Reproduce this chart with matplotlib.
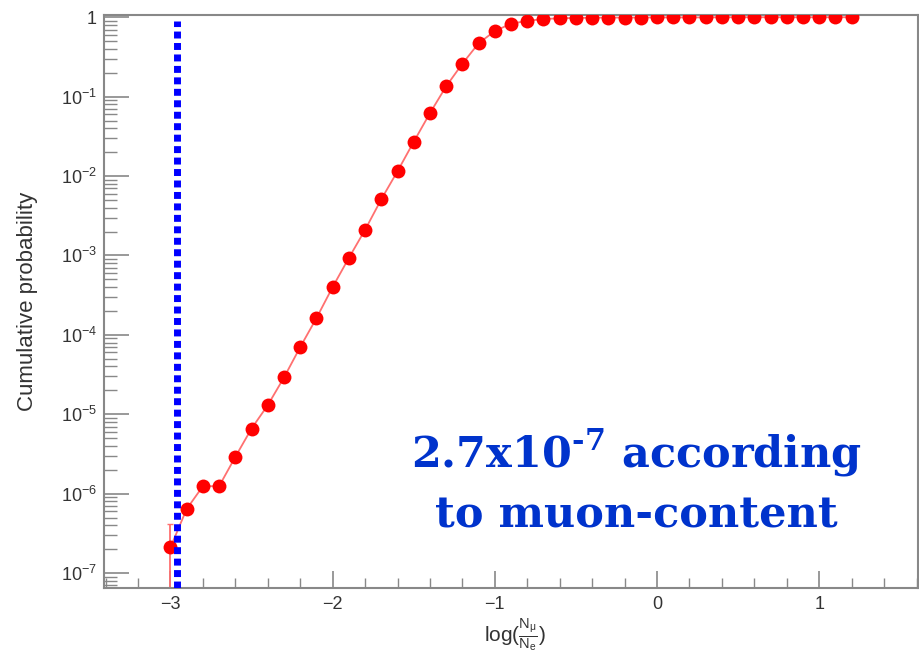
import matplotlib.pyplot as plt
from matplotlib.ticker import FixedLocator, NullFormatter, LogLocator

plt.rcParams['mathtext.fontset'] = 'custom'
plt.rcParams['mathtext.rm'] = 'DejaVu Serif:bold'

# log(N_mu / N_e) bins and cumulative probability
x = [-3.0, -2.9, -2.8, -2.7, -2.6, -2.5, -2.4, -2.3, -2.2, -2.1,
     -2.0, -1.9, -1.8, -1.7, -1.6, -1.5, -1.4, -1.3, -1.2, -1.1,
     -1.0, -0.9, -0.8, -0.7, -0.6, -0.5, -0.4, -0.3, -0.2, -0.1,
     0.0, 0.1, 0.2, 0.3, 0.4, 0.5, 0.6, 0.7, 0.8, 0.9,
     1.0, 1.1, 1.2]
prob = [2.1e-7, 6.4e-7, 1.24e-6, 1.24e-6, 2.9e-6, 6.6e-6, 1.3e-5, 2.9e-5, 7.0e-5, 1.62e-4,
        4.0e-4, 9.3e-4, 2.1e-3, 5.1e-3, 1.15e-2, 2.7e-2, 6.2e-2, 0.135, 0.26, 0.47,
        0.67, 0.83, 0.90, 0.95, 0.97, 0.98, 0.985, 0.99, 0.99, 0.99,
        0.995, 0.995, 0.995, 0.995, 1.0, 1.0, 1.0, 1.0, 1.0, 1.0,
        1.0, 1.0, 1.0]

# error bar only on the first bin
err_x = [-3.0]
err_y = [2.1e-7]
err_lo = [2.0e-7]
err_hi = [2.1e-7]

cut_x = -2.96
cut_y = [6.5e-8, 0.9]

y_ticks = [1e-7, 1e-6, 1e-5, 1e-4, 1e-3, 1e-2, 1e-1, 1]
y_labels = ['10$^{\\mathdefault{\u2212%d}}$' % e for e in range(7, 0, -1)] + ['1']

fig = plt.figure(figsize=(9.2, 6.62), dpi=100)
ax = fig.add_axes([0.113, 0.112, 0.885, 0.865])

ax.plot(x, prob, color='#ff7070', lw=1.3, zorder=2)
ax.plot(x, prob, 'o', color='red', ms=10, mec='none', zorder=3)
ax.errorbar(err_x, err_y, yerr=[err_lo, err_hi], fmt='none', ecolor='#ff7070',
            elinewidth=1.3, capsize=2.5, zorder=2)
ax.plot([cut_x, cut_x], cut_y, color='blue', lw=5, dashes=(1, 0.65),
        dash_capstyle='butt', zorder=4)

ax.set_yscale('log')
ax.set_xlim(-3.41, 1.61)
ax.set_ylim(6.5e-8, 1.06)

ax.set_xticks([-3, -2, -1, 0, 1])
ax.xaxis.set_minor_locator(FixedLocator([v / 10 for v in range(-34, 17, 2)]))
ax.set_yticks(y_ticks)
ax.set_yticklabels(y_labels)
ax.yaxis.set_minor_locator(LogLocator(base=10, subs=range(2, 10), numticks=20))
ax.yaxis.set_minor_formatter(NullFormatter())

for s in ax.spines.values():
    s.set_color('#888888')
    s.set_linewidth(1.5)

ax.tick_params(axis='both', which='both', direction='in', colors='#888888',
               labelcolor='#333333', labelsize=13, top=False, right=False)
ax.tick_params(axis='y', which='major', length=18, width=1.2, pad=5)
ax.tick_params(axis='y', which='minor', length=9, width=1.0)
ax.tick_params(axis='x', which='major', length=12, width=1.2, pad=6)
ax.tick_params(axis='x', which='minor', length=7, width=1.0)

for lab in ax.get_xticklabels() + ax.get_yticklabels():
    lab.set_family('Liberation Sans')

ax.set_ylabel('Cumulative probability', fontsize=16, color='#333333',
              family='Liberation Sans')
ax.yaxis.set_label_coords(-0.081, 0.5)
ax.set_xlabel(r'log($\frac{\mathdefault{N_{\mu}}}{\mathdefault{N_{e}}}$)', fontsize=15,
              color='#333333', family='Liberation Sans')
ax.xaxis.set_label_coords(0.505, -0.05)
ax.xaxis.label.set_va('top')

ax.text(0.654, 0.185, '2.7x10$^{\\text{-7}}$ according\nto muon-content',
        transform=ax.transAxes, ha='center', va='center', fontsize=31,
        fontweight='bold', family='DejaVu Serif', color='#0033cc',
        linespacing=1.45)

fig.savefig('out.png', dpi=100)
